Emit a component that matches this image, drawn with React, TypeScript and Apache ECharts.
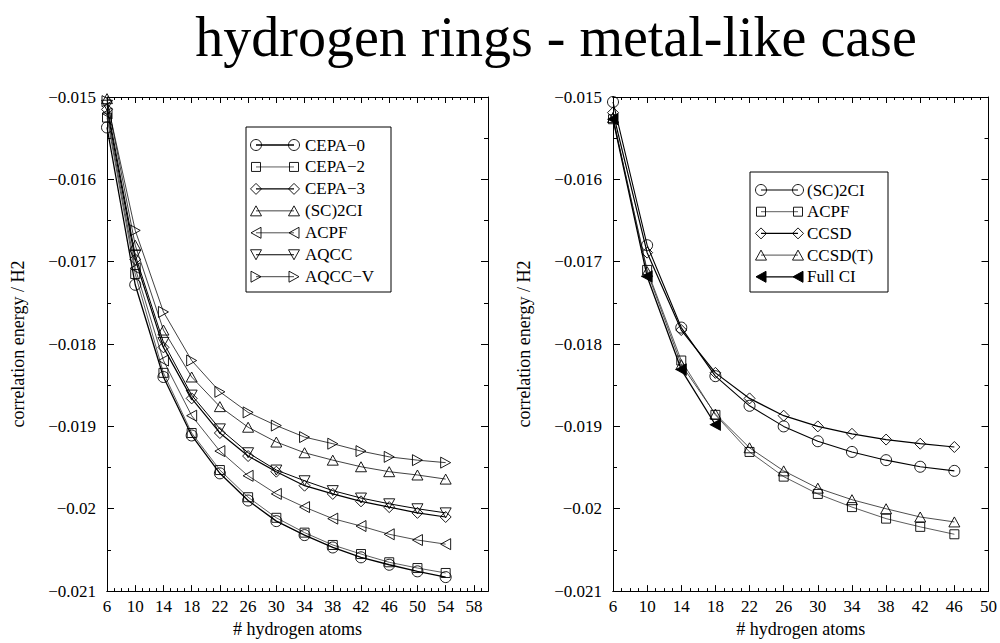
import React, { useEffect, useRef } from 'react';
import * as echarts from 'echarts';

const TITLE = 'hydrogen rings - metal-like case';
const X_NAME = '# hydrogen atoms';
const Y_NAME = 'correlation energy / H2';

// Left panel
const leftAtoms = [6, 10, 14, 18, 22, 26, 30, 34, 38, 42, 46, 50, 54];
const cepa0 = [-0.01537, -0.01728, -0.0184, -0.01911, -0.01957, -0.0199, -0.02015, -0.02032, -0.02047, -0.02059, -0.02068, -0.02076, -0.02083];
const cepa2 = [-0.01525, -0.01715, -0.01835, -0.01908, -0.01953, -0.01986, -0.02011, -0.02029, -0.02044, -0.02055, -0.02065, -0.02072, -0.02078];
const cepa3 = [-0.01515, -0.01697, -0.01804, -0.01866, -0.01908, -0.01936, -0.01955, -0.01972, -0.01982, -0.01991, -0.01998, -0.02005, -0.0201];
const sc2ciL = [-0.01502, -0.0168, -0.01783, -0.0184, -0.01876, -0.01901, -0.01919, -0.01932, -0.01941, -0.01949, -0.01955, -0.01959, -0.01964];
const acpfL = [-0.0152, -0.01708, -0.0182, -0.01887, -0.0193, -0.0196, -0.01982, -0.01998, -0.02012, -0.02021, -0.02031, -0.02038, -0.02043];
const aqcc = [-0.0151, -0.01692, -0.01798, -0.01862, -0.01903, -0.01932, -0.01953, -0.01966, -0.01978, -0.01987, -0.01994, -0.02, -0.02005];
const aqccV = [-0.01505, -0.01662, -0.01761, -0.0182, -0.01858, -0.01883, -0.01899, -0.01913, -0.01921, -0.0193, -0.01937, -0.01941, -0.01944];

// Right panel
const rightAtoms = [6, 10, 14, 18, 22, 26, 30, 34, 38, 42, 46];
const sc2ciR = [-0.01506, -0.0168, -0.0178, -0.01839, -0.01875, -0.019, -0.01918, -0.01931, -0.01941, -0.01949, -0.01954];
const acpfR = [-0.01527, -0.0171, -0.0182, -0.01886, -0.01931, -0.01961, -0.01982, -0.01998, -0.02012, -0.02022, -0.02031];
const ccsd = [-0.01519, -0.01689, -0.01783, -0.01835, -0.01866, -0.01887, -0.019, -0.01909, -0.01916, -0.01921, -0.01925];
const ccsdT = [-0.01525, -0.01712, -0.01825, -0.01885, -0.01926, -0.01954, -0.01975, -0.01989, -0.02, -0.0201, -0.02016];
const fullCiAtoms = [6, 10, 14, 18];
const fullCi = [-0.01527, -0.01718, -0.01831, -0.01898];

const yTicksMin = -0.021;
const yTicksMax = -0.015;
const yStep = 0.001;

const FONT = 'Liberation Serif';

type Kind = 'circle' | 'square' | 'diamond' | 'up' | 'down' | 'left' | 'right' | 'leftFilled';

const SYMBOL: Record<Kind, { symbol: string; size: number[] }> = {
  circle: { symbol: 'circle', size: [11, 11] },
  square: { symbol: 'rect', size: [9, 9] },
  diamond: { symbol: 'diamond', size: [11, 11] },
  up: { symbol: 'path://M5,0L10,9L0,9Z', size: [11, 10] },
  down: { symbol: 'path://M0,0L10,0L5,9Z', size: [11, 10] },
  left: { symbol: 'path://M0,5L9,0L9,10Z', size: [10, 11] },
  right: { symbol: 'path://M0,0L9,5L0,10Z', size: [10, 11] },
  leftFilled: { symbol: 'path://M0,5L9,0L9,10Z', size: [10, 11] },
};

interface SeriesDef {
  name: string;
  xs: number[];
  ys: number[];
  kind: Kind;
  lw: number;
  color: string;
}

const leftSeries: SeriesDef[] = [
  { name: 'CEPA\u22120', xs: leftAtoms, ys: cepa0, kind: 'circle', lw: 1.3, color: '#000' },
  { name: 'CEPA\u22122', xs: leftAtoms, ys: cepa2, kind: 'square', lw: 0.8, color: '#333' },
  { name: 'CEPA\u22123', xs: leftAtoms, ys: cepa3, kind: 'diamond', lw: 1.2, color: '#000' },
  { name: '(SC)2CI', xs: leftAtoms, ys: sc2ciL, kind: 'up', lw: 0.8, color: '#111' },
  { name: 'ACPF', xs: leftAtoms, ys: acpfL, kind: 'left', lw: 0.8, color: '#222' },
  { name: 'AQCC', xs: leftAtoms, ys: aqcc, kind: 'down', lw: 1.0, color: '#000' },
  { name: 'AQCC\u2212V', xs: leftAtoms, ys: aqccV, kind: 'right', lw: 0.8, color: '#111' },
];

const rightSeries: SeriesDef[] = [
  { name: '(SC)2CI', xs: rightAtoms, ys: sc2ciR, kind: 'circle', lw: 1.1, color: '#000' },
  { name: 'ACPF', xs: rightAtoms, ys: acpfR, kind: 'square', lw: 0.8, color: '#333' },
  { name: 'CCSD', xs: rightAtoms, ys: ccsd, kind: 'diamond', lw: 1.2, color: '#000' },
  { name: 'CCSD(T)', xs: rightAtoms, ys: ccsdT, kind: 'up', lw: 0.8, color: '#222' },
  { name: 'Full CI', xs: fullCiAtoms, ys: fullCi, kind: 'leftFilled', lw: 1.3, color: '#000' },
];

const tickText = { fontFamily: FONT, fontSize: 17, color: '#000' };
const nameText = { fontFamily: FONT, fontSize: 18, color: '#000' };

function xAxesFor(gridIndex: number, max: number): any[] {
  const base = {
    type: 'value',
    gridIndex,
    min: 6,
    max,
    splitLine: { show: false },
    axisLine: { show: true, onZero: false, lineStyle: { color: '#000', width: 1 } },
  };
  const major = {
    ...base,
    interval: 4,
    axisTick: { show: true, inside: true, length: 6, lineStyle: { color: '#000', width: 1 } },
  };
  const minor = {
    ...base,
    interval: 1,
    axisTick: { show: true, inside: true, length: 3, lineStyle: { color: '#000', width: 1 } },
    axisLabel: { show: false },
  };
  return [
    {
      ...major,
      position: 'bottom',
      axisLabel: {
        show: true,
        ...tickText,
        margin: 7,
        showMaxLabel: (max - 6) % 4 === 0,
        showMinLabel: true,
      },
      name: X_NAME,
      nameLocation: 'middle',
      nameGap: 28,
      nameTextStyle: { ...nameText },
    },
    { ...minor, position: 'bottom' },
    { ...major, position: 'top', axisLabel: { show: false } },
    { ...minor, position: 'top' },
  ];
}

function yAxesFor(gridIndex: number): any[] {
  const base = {
    type: 'value',
    gridIndex,
    min: yTicksMin,
    max: yTicksMax,
    interval: yStep,
    splitLine: { show: false },
    axisLine: { show: true, onZero: false, lineStyle: { color: '#000', width: 1 } },
    axisTick: { show: true, inside: true, length: 7, lineStyle: { color: '#000', width: 1 } },
    minorTick: { show: true, splitNumber: 2, length: 4, lineStyle: { color: '#000', width: 1 } },
  };
  return [
    {
      ...base,
      position: 'left',
      axisLabel: {
        show: true,
        ...tickText,
        margin: 11,
        formatter: (v: number) => String(Number(v.toFixed(4))).replace('-', '\u2212'),
      },
      name: Y_NAME,
      nameLocation: 'middle',
      nameGap: 80,
      nameTextStyle: { ...nameText },
    },
    { ...base, position: 'right', axisLabel: { show: false } },
  ];
}

function toSeries(defs: SeriesDef[], xAxisIndex: number, yAxisIndex: number): any[] {
  return defs.map((d) => {
    const filled = d.kind === 'leftFilled';
    return {
      type: 'line',
      name: d.name,
      xAxisIndex,
      yAxisIndex,
      data: d.xs.map((x, i) => [x, d.ys[i]]),
      symbol: SYMBOL[d.kind].symbol,
      symbolSize: SYMBOL[d.kind].size,
      showSymbol: true,
      showAllSymbol: true,
      silent: true,
      lineStyle: { color: d.color, width: d.lw },
      itemStyle: {
        color: filled ? '#000' : 'rgba(0,0,0,0)',
        borderColor: '#000',
        borderWidth: filled ? 1 : 0.9,
      },
      emphasis: { disabled: true },
      z: 3,
    };
  });
}

function markerGraphic(kind: Kind, cx: number, cy: number): any {
  const stroke = { fill: 'none', stroke: '#000', lineWidth: 0.9 };
  const s = SYMBOL[kind].size;
  const hw = s[0] / 2;
  const hh = s[1] / 2;
  switch (kind) {
    case 'circle':
      return { type: 'circle', shape: { cx, cy, r: hw }, style: stroke };
    case 'square':
      return { type: 'rect', shape: { x: cx - hw, y: cy - hh, width: s[0], height: s[1] }, style: stroke };
    case 'diamond':
      return { type: 'polygon', shape: { points: [[cx, cy - hh], [cx + hw, cy], [cx, cy + hh], [cx - hw, cy]] }, style: stroke };
    case 'up':
      return { type: 'polygon', shape: { points: [[cx, cy - hh], [cx + hw, cy + hh], [cx - hw, cy + hh]] }, style: stroke };
    case 'down':
      return { type: 'polygon', shape: { points: [[cx - hw, cy - hh], [cx + hw, cy - hh], [cx, cy + hh]] }, style: stroke };
    case 'left':
      return { type: 'polygon', shape: { points: [[cx - hw, cy], [cx + hw, cy - hh], [cx + hw, cy + hh]] }, style: stroke };
    case 'right':
      return { type: 'polygon', shape: { points: [[cx - hw, cy - hh], [cx + hw, cy], [cx - hw, cy + hh]] }, style: stroke };
    case 'leftFilled':
      return { type: 'polygon', shape: { points: [[cx - hw, cy], [cx + hw, cy - hh], [cx + hw, cy + hh]] }, style: { fill: '#000', stroke: '#000', lineWidth: 1 } };
  }
}

function legendGraphic(
  defs: SeriesDef[],
  box: { x: number; y: number; w: number; h: number },
  firstY: number,
  step: number,
  x1: number,
  x2: number,
  textX: number
): any[] {
  const els: any[] = [
    {
      type: 'rect',
      shape: { x: box.x, y: box.y, width: box.w, height: box.h },
      style: { fill: '#fff', stroke: '#000', lineWidth: 1 },
      z: 10,
    },
  ];
  defs.forEach((d, i) => {
    const cy = firstY + i * step;
    els.push({ type: 'line', shape: { x1, y1: cy, x2, y2: cy }, style: { stroke: d.color, lineWidth: d.lw }, z: 11 });
    els.push({ ...markerGraphic(d.kind, x1, cy), z: 12 });
    els.push({ ...markerGraphic(d.kind, x2, cy), z: 12 });
    els.push({
      type: 'text',
      x: textX,
      y: cy,
      style: { text: d.name, fontFamily: FONT, fontSize: 17, fill: '#000', align: 'left', verticalAlign: 'middle' },
      z: 12,
    });
  });
  return els;
}

export default function App() {
  const ref = useRef<HTMLDivElement>(null);
  useEffect(() => {
    if (!ref.current) return;
    const chart = echarts.init(ref.current, null, { renderer: 'svg' });
    const option: any = {
      animation: false,
      backgroundColor: '#fff',
      textStyle: { fontFamily: FONT },
      grid: [
        { left: 107, top: 97, width: 381, height: 498 },
        { left: 613, top: 97, width: 377, height: 498 },
      ],
      xAxis: [...xAxesFor(0, 60), ...xAxesFor(1, 50)],
      yAxis: [...yAxesFor(0), ...yAxesFor(1)],
      series: [...toSeries(leftSeries, 0, 0), ...toSeries(rightSeries, 4, 2)],
      graphic: [
        {
          type: 'text',
          x: 556,
          y: 37,
          style: { text: TITLE, fontFamily: FONT, fontSize: 56, fill: '#000', align: 'center', verticalAlign: 'middle' },
        },
        ...legendGraphic(leftSeries, { x: 246, y: 127, w: 145, h: 165 }, 145, 21.95, 256, 294, 305),
        ...legendGraphic(rightSeries, { x: 750, y: 172, w: 138, h: 120 }, 190, 21.7, 761, 798, 807),
      ],
    };
    chart.setOption(option);
    return () => chart.dispose();
  }, []);
  return <div ref={ref} style={{ position: 'absolute', left: 0, top: 0, width: 1000, height: 643 }} />;
}
